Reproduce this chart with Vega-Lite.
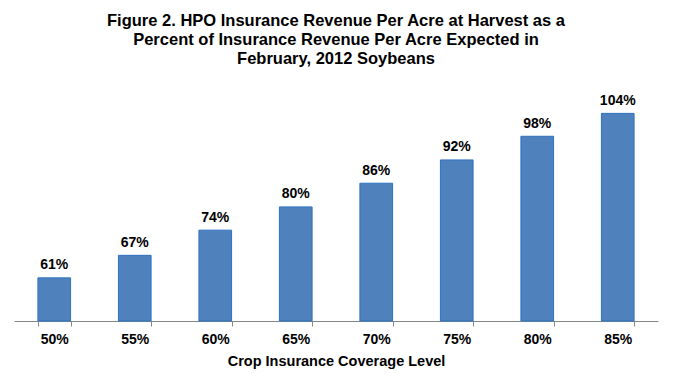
{
  "$schema": "https://vega.github.io/schema/vega-lite/v6.json",
  "width": 644,
  "height": 229,
  "autosize": {"type": "none"},
  "padding": {"left": 14, "top": 92, "right": 15, "bottom": 64},
  "background": "white",
  "title": {
    "text": ["Figure 2. HPO Insurance Revenue Per Acre at Harvest as a", "Percent  of Insurance Revenue Per Acre Expected in", "February,  2012 Soybeans"],
    "font": "Liberation Sans",
    "fontSize": 16.5,
    "fontWeight": "bold",
    "color": "black",
    "lineHeight": 19,
    "anchor": "middle",
    "offset": 25
  },
  "data": {
    "values": [
      {"level": "50%", "pct": 0.613},
      {"level": "55%", "pct": 0.672},
      {"level": "60%", "pct": 0.738},
      {"level": "65%", "pct": 0.799},
      {"level": "70%", "pct": 0.861},
      {"level": "75%", "pct": 0.922},
      {"level": "80%", "pct": 0.984},
      {"level": "85%", "pct": 1.044}
    ]
  },
  "encoding": {
    "x": {
      "field": "level",
      "type": "ordinal",
      "sort": null,
      "scale": {"paddingInner": 0.594, "paddingOuter": 0.297},
      "axis": {
        "title": "Crop Insurance Coverage Level",
        "titleFont": "Liberation Sans",
        "titleFontSize": 14.5,
        "titleFontWeight": "bold",
        "titleColor": "black",
        "titlePadding": 8,
        "labelAngle": 0,
        "labelFont": "Liberation Sans",
        "labelFontSize": 14,
        "labelFontWeight": "bold",
        "labelColor": "black",
        "labelPadding": 6,
        "tickBand": "extent",
        "tickSize": 5,
        "tickColor": "#868686",
        "domainColor": "#868686",
        "grid": false
      }
    },
    "y": {
      "field": "pct",
      "type": "quantitative",
      "scale": {"domain": [0.5, 1.1], "nice": false, "zero": false},
      "axis": null
    }
  },
  "layer": [
    {
      "mark": {"type": "bar", "color": "#4F81BD", "stroke": "#2F72BF", "strokeWidth": 1},
      "encoding": {"y2": {"datum": 0.5}}
    },
    {
      "mark": {"type": "text", "baseline": "alphabetic", "dy": -8.5, "font": "Liberation Sans", "fontSize": 14, "fontWeight": "bold", "color": "black"},
      "encoding": {
        "text": {"field": "pct", "type": "quantitative", "format": ".0%"}
      }
    }
  ],
  "config": {"view": {"stroke": null}}
}
